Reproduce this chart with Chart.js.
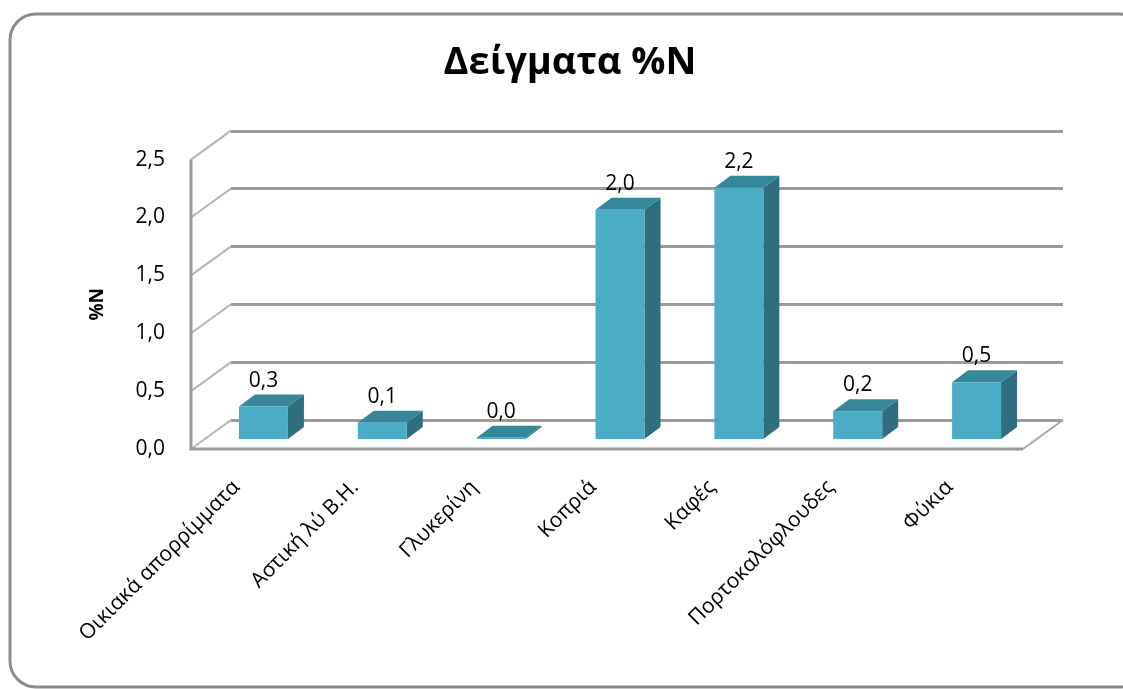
<!DOCTYPE html>
<html lang="el">
<head>
<meta charset="utf-8">
<title>Δείγματα %N</title>
<script src="https://cdn.jsdelivr.net/npm/chart.js@4.4.1/dist/chart.umd.min.js"></script>
<style>
  html, body { margin: 0; padding: 0; background: #fff; }
  #contenedor { width: 1123px; height: 689px; }
</style>
</head>
<body>
<div id="contenedor"><canvas id="grafico1"></canvas></div>
<script>
// datos
const categorias = ['Οικιακά απορρίμματα', 'Αστική λύ Β.Η.', 'Γλυκερίνη', 'Κοπριά', 'Καφές', 'Πορτοκαλόφλουδες', 'Φύκια'];
const valoresN = [0.28, 0.14, 0.01, 1.98, 2.17, 0.24, 0.49];
const marcasY = [0, 0.5, 1.0, 1.5, 2.0, 2.5];

// profundidad de paredes y de las barras
const PARED_DX = 40, PARED_DY = -29;
const BARRA_OX = 13, BARRA_OY = -10;
const BARRA_DX = 16, BARRA_DY = -12;

const fuente = '"Open Sans", "Noto Sans", sans-serif';
const coma = v => v.toFixed(1).replace('.', ',');

const marco = {
  id: 'marco',
  beforeDraw(chart) {
    const ctx = chart.ctx;
    ctx.save();
    ctx.strokeStyle = '#8c8c8c';
    ctx.lineWidth = 3;
    ctx.beginPath();
    ctx.roundRect(10, 14, 1135, 673, 26);
    ctx.stroke();
    ctx.restore();
  }
};

const paredes = {
  id: 'paredes',
  beforeDatasetsDraw(chart) {
    const { ctx, chartArea: a, scales: { y } } = chart;
    ctx.save();
    // lineas de la pared izquierda
    ctx.strokeStyle = '#b4b4b4';
    ctx.lineWidth = 2;
    marcasY.forEach(v => {
      const py = y.getPixelForValue(v);
      ctx.beginPath();
      ctx.moveTo(a.left, py);
      ctx.lineTo(a.left + PARED_DX, py + PARED_DY);
      ctx.stroke();
    });
    // rejilla de la pared del fondo
    ctx.strokeStyle = '#9a9a9a';
    ctx.lineWidth = 3;
    marcasY.forEach(v => {
      const py = Math.round(y.getPixelForValue(v) + PARED_DY) + 0.5;
      ctx.beginPath();
      ctx.moveTo(a.left + PARED_DX, py);
      ctx.lineTo(a.right + PARED_DX, py);
      ctx.stroke();
    });
    // borde derecho del suelo
    ctx.strokeStyle = '#a8a8a8';
    ctx.lineWidth = 2;
    ctx.beginPath();
    ctx.moveTo(a.right, a.bottom);
    ctx.lineTo(a.right + PARED_DX, a.bottom + PARED_DY);
    ctx.stroke();
    // eje vertical y borde frontal del suelo
    ctx.strokeStyle = '#999999';
    ctx.lineWidth = 3;
    ctx.beginPath();
    ctx.moveTo(a.left, y.getPixelForValue(2.5));
    ctx.lineTo(a.left, a.bottom);
    ctx.lineTo(a.right, a.bottom);
    ctx.stroke();
    ctx.restore();
  },
  afterDatasetsDraw(chart) {
    const ctx = chart.ctx;
    const meta = chart.getDatasetMeta(0);
    ctx.save();
    meta.data.forEach((barra, i) => {
      const p = barra.getProps(['x', 'y', 'base', 'width'], true);
      const x0 = p.x - p.width / 2 + BARRA_OX;
      const x1 = x0 + p.width;
      const arriba = p.y + BARRA_OY;
      const abajo = p.base + BARRA_OY;
      // lado
      ctx.fillStyle = '#2f6e7e';
      ctx.beginPath();
      ctx.moveTo(x1, arriba);
      ctx.lineTo(x1 + BARRA_DX, arriba + BARRA_DY);
      ctx.lineTo(x1 + BARRA_DX, abajo + BARRA_DY);
      ctx.lineTo(x1, abajo);
      ctx.closePath();
      ctx.fill();
      // tapa
      ctx.fillStyle = '#37879a';
      ctx.beginPath();
      ctx.moveTo(x0, arriba);
      ctx.lineTo(x1, arriba);
      ctx.lineTo(x1 + BARRA_DX, arriba + BARRA_DY);
      ctx.lineTo(x0 + BARRA_DX, arriba + BARRA_DY);
      ctx.closePath();
      ctx.fill();
      // frente
      ctx.fillStyle = '#4bacc6';
      ctx.fillRect(x0, arriba, p.width, abajo - arriba);
      // etiqueta del valor
      ctx.fillStyle = '#000';
      ctx.font = '21px ' + fuente;
      ctx.textAlign = 'center';
      ctx.textBaseline = 'middle';
      ctx.fillText(coma(valoresN[i]), (x0 + x1) / 2, arriba + BARRA_DY - 14);
    });
    ctx.restore();
  }
};

document.addEventListener('DOMContentLoaded', () => {
  const lienzo = document.querySelector('#grafico1');
  new Chart(lienzo, {
    type: 'bar',
    data: {
      labels: categorias,
      datasets: [{
        label: '%N',
        data: valoresN,
        backgroundColor: 'rgba(0,0,0,0)',
        borderWidth: 0,
        categoryPercentage: 1,
        barPercentage: 0.412
      }]
    },
    options: {
      responsive: true,
      maintainAspectRatio: false,
      animation: false,
      layout: { padding: { left: 117, right: 100, top: 0, bottom: 0 } },
      plugins: {
        legend: { display: false },
        tooltip: { enabled: false },
        title: {
          display: true,
          text: 'Δείγματα %N',
          color: '#000',
          font: { family: fuente, size: 38, weight: 'bold', lineHeight: 1.2 },
          padding: { top: 40, bottom: 74 }
        }
      },
      scales: {
        x: {
          grid: { display: false, drawTicks: false },
          border: { display: false },
          ticks: {
            color: '#000',
            font: { family: fuente, size: 21 },
            maxRotation: 45,
            minRotation: 45,
            autoSkip: false,
            padding: 26,
            labelOffset: -14
          },
          afterFit(scale) { scale.height = 240; }
        },
        y: {
          min: 0,
          max: 2.5,
          grid: { display: false, drawTicks: false },
          border: { display: false },
          ticks: {
            stepSize: 0.5,
            color: '#000',
            font: { family: fuente, size: 21 },
            padding: 26,
            callback: v => coma(v)
          },
          title: {
            display: true,
            text: '%N',
            color: '#000',
            font: { family: fuente, size: 19, weight: 'bold' },
            padding: { top: -31, bottom: 0 }
          },
          afterFit(scale) { scale.width = 74; }
        }
      }
    },
    plugins: [marco, paredes]
  });
});
</script>
</body>
</html>
